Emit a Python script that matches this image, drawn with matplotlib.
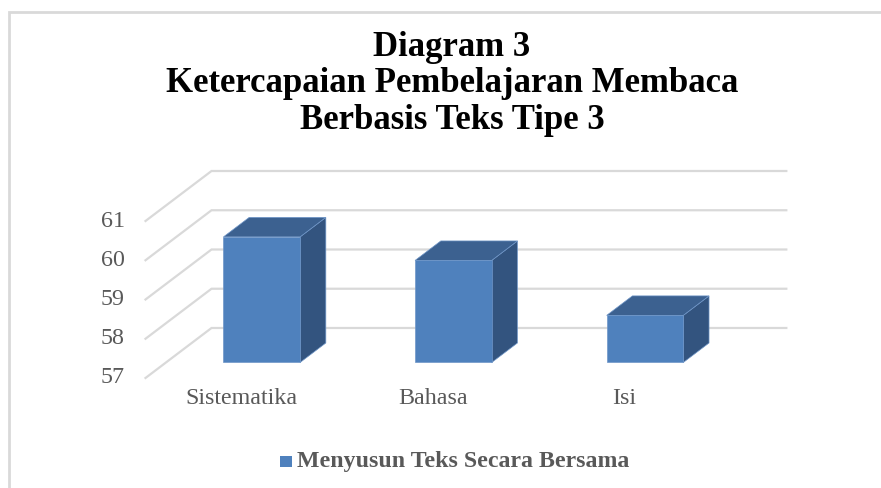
import matplotlib
matplotlib.use('Agg')
import matplotlib.pyplot as plt
from matplotlib.patches import Polygon, Rectangle
from matplotlib.transforms import offset_copy

# data
categories = ['Sistematika', 'Bahasa', 'Isi']
values = [60.2, 59.6, 58.2]
y_ticks = [57, 58, 59, 60, 61]
series_name = 'Menyusun Teks Secara Bersama'
title = 'Diagram 3\nKetercapaian Pembelajaran Membaca\nBerbasis Teks Tipe 3'

# colours
front_col = '#4f81bd'
top_col = '#3c6190'
side_col = '#33547f'
grid_col = '#d9d9d9'
text_col = '#595959'

# fake 3D projection (depth 0 = front plane, 1 = back wall)
DX, DY = 0.3445, 1.274
bar_w = 0.40
d0, d1 = 0.31, 0.70


def proj(x, y, d):
    return (x + DX * d, y + DY * d)


fig = plt.figure(figsize=(8.81, 4.88), dpi=100)
plt.rcParams['font.family'] = ['Liberation Serif', 'DejaVu Serif']

ax = fig.add_axes([0, 0, 1, 1])
ax.set_xlim(-1.2594, 3.3387)
ax.set_ylim(54.197, 66.631)
ax.axis('off')

# outer frame
fig.patches.append(Rectangle((9 / 881, -0.1), 2, (488 - 12) / 488 + 0.1,
                             transform=fig.transFigure, fill=False,
                             edgecolor=grid_col, lw=2))

# gridlines: diagonal on the side wall + horizontal on the back wall
x_lo, x_hi = -0.5, len(categories) - 0.5
for v in y_ticks:
    p0 = proj(x_lo, v, 0)
    p1 = proj(x_lo, v, 1)
    p2 = proj(x_hi, v, 1)
    ax.plot([p0[0], p1[0], p2[0]], [p0[1], p1[1], p2[1]],
            color=grid_col, lw=1.6, zorder=1, solid_joinstyle='miter')

# bars
base = y_ticks[0]
for i, v in enumerate(values):
    xl, xr = i - bar_w / 2, i + bar_w / 2
    front = [proj(xl, base, d0), proj(xr, base, d0), proj(xr, v, d0), proj(xl, v, d0)]
    top = [proj(xl, v, d0), proj(xr, v, d0), proj(xr, v, d1), proj(xl, v, d1)]
    side = [proj(xr, base, d0), proj(xr, base, d1), proj(xr, v, d1), proj(xr, v, d0)]
    for pts, c in [(side, side_col), (top, top_col), (front, front_col)]:
        ax.add_patch(Polygon(pts, closed=True, facecolor=c, edgecolor='#6f96c8',
                             lw=0.5, zorder=3))

# y tick labels
tr_y = offset_copy(ax.transData, fig=fig, x=-21, y=0, units='dots')
for v in y_ticks:
    ax.text(x_lo, v, str(v), transform=tr_y, ha='right', va='center',
            fontsize=17.3, color=text_col)

# category labels
tr_x = offset_copy(ax.transData, fig=fig, x=0, y=-21, units='dots')
for i, c in enumerate(categories):
    ax.text(i, base, c, transform=tr_x, ha='center', va='center',
            fontsize=17.3, color=text_col)

# title
fig.text(452 / 881, 1 - 84 / 488, title, ha='center', va='center',
         fontsize=25, fontweight='bold', color='black', linespacing=1.13)

# legend
fig.patches.append(Rectangle((280 / 881, 1 - 467 / 488), 11.5 / 881, 11.5 / 488,
                             transform=fig.transFigure, facecolor=front_col,
                             edgecolor='none'))
fig.text(297 / 881, 1 - 461 / 488, series_name, ha='left', va='center',
         fontsize=17.2, fontweight='bold', color=text_col)

plt.savefig('out.png', dpi=100)
